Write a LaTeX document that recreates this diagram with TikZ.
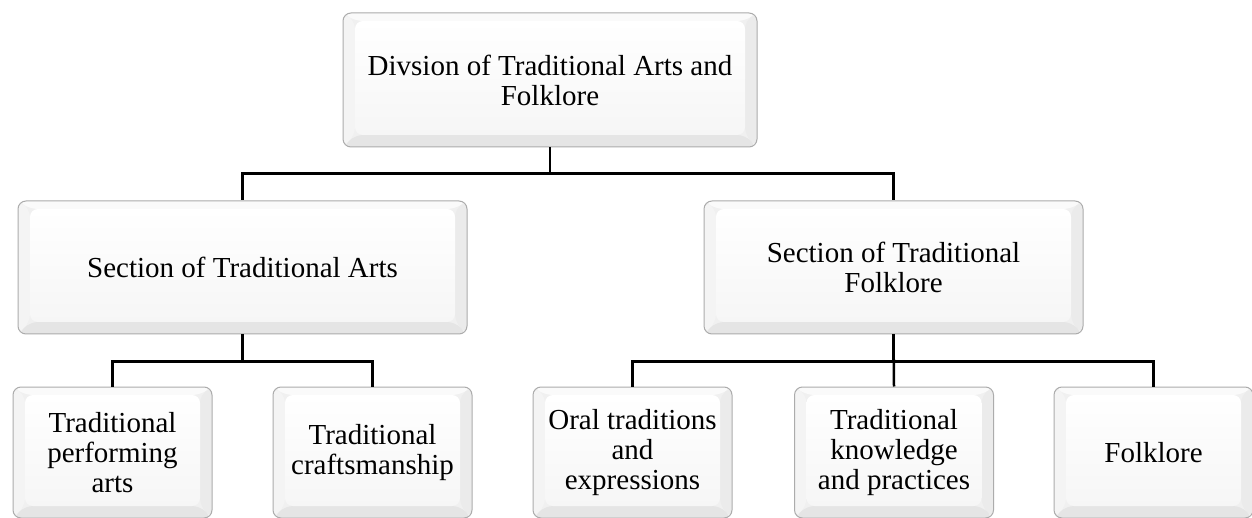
\documentclass[tikz,border=0pt]{standalone}
\usepackage{fontspec}
\setmainfont{Liberation Serif}
\usetikzlibrary{calc}
\tikzset{
  bevelbox/.style={
    rounded corners=8pt, draw=gray!65, line width=1pt, fill=gray!12,
    align=center, inner sep=0pt,
    font=\fontsize{29}{30}\selectfont,
    path picture={
      \fill[gray!4] (path picture bounding box.north west) -- (path picture bounding box.north east)
        -- ([shift={(-12pt,-8pt)}]path picture bounding box.north east)
        -- ([shift={(12pt,-8pt)}]path picture bounding box.north west) -- cycle;
      \fill[gray!9] (path picture bounding box.north west)
        -- ([shift={(12pt,-8pt)}]path picture bounding box.north west)
        -- ([shift={(12pt,12pt)}]path picture bounding box.south west)
        -- (path picture bounding box.south west) -- cycle;
      \fill[gray!16] (path picture bounding box.north east)
        -- ([shift={(-12pt,-8pt)}]path picture bounding box.north east)
        -- ([shift={(-12pt,12pt)}]path picture bounding box.south east)
        -- (path picture bounding box.south east) -- cycle;
      \fill[gray!20] (path picture bounding box.south west)
        -- ([shift={(12pt,12pt)}]path picture bounding box.south west)
        -- ([shift={(-12pt,12pt)}]path picture bounding box.south east)
        -- (path picture bounding box.south east) -- cycle;
      \shade[top color=white, bottom color=gray!7]
        ([shift={(12pt,-8pt)}]path picture bounding box.north west)
        rectangle ([shift={(-12pt,12pt)}]path picture bounding box.south east);
    }
  },
  conn/.style={line width=2.5pt, black}
}
\begin{document}
\begin{tikzpicture}[x=1pt,y=-1pt]
\useasboundingbox[fill=white] (0,0) rectangle (1252,518);

\node[bevelbox, minimum width=414pt, minimum height=134pt] (top) at (550,80)
  {Divsion of Traditional Arts and\\Folklore};

\node[bevelbox, minimum width=449pt, minimum height=133pt] (lmid) at (242.5,267.5)
  {Section of Traditional Arts};
\node[bevelbox, minimum width=379pt, minimum height=133pt] (rmid) at (893.5,267.5)
  {Section of Traditional\\Folklore};

\node[bevelbox, minimum width=199pt, minimum height=131pt] (b1) at (112.5,452.5)
  {Traditional\\performing\\arts};
\node[bevelbox, minimum width=199pt, minimum height=131pt] (b2) at (372.5,452.5)
  {Traditional\\craftsmanship};
\node[bevelbox, minimum width=199pt, minimum height=131pt] (b3) at (632.5,452.5)
  {Oral traditions\\and\\expressions};
\node[bevelbox, minimum width=199pt, minimum height=131pt] (b4) at (894,452.5)
  {Traditional\\knowledge\\and practices};
\node[bevelbox, minimum width=199pt, minimum height=131pt] (b5) at (1153.5,452.5)
  {Folklore};

\draw[conn] (top.south) -- ++(0,26) -| (lmid.north);
\draw[conn] (top.south) -- ++(0,26) -| (rmid.north);

\draw[conn] (lmid.south) -- ++(0,27) -| (b1.north);
\draw[conn] (lmid.south) -- ++(0,27) -| (b2.north);

\draw[conn] (rmid.south) -- ++(0,27) -| (b3.north);
\draw[conn] (rmid.south) -- (b4.north);
\draw[conn] (rmid.south) -- ++(0,27) -| (b5.north);
\end{tikzpicture}
\end{document}
